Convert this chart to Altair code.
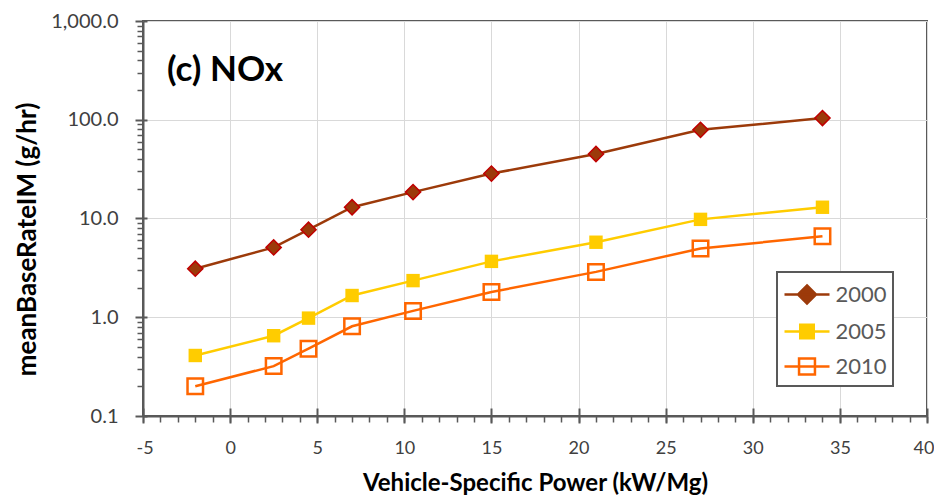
import altair as alt
import pandas as pd

# ---- data ----
vsp = [-2, 2.5, 4.5, 7, 10.5, 15, 21, 27, 34]
nox_2000 = [3.1, 5.1, 7.7, 13.0, 18.5, 28.5, 45.0, 79.0, 104.0]
nox_2005 = [0.41, 0.65, 0.98, 1.66, 2.35, 3.68, 5.75, 9.8, 13.0]
nox_2010 = [0.20, 0.32, 0.48, 0.81, 1.16, 1.80, 2.88, 4.97, 6.6]
years = ["2000", "2005", "2010"]
x_ticks = [-5, 0, 5, 10, 15, 20, 25, 30, 35, 40]
y_ticks = [0.1, 1, 10, 100, 1000]

# ---- styling ----
line_colors = ["#9C3A0A", "#FFCC00", "#FF6600"]
legend_fills = ["#9C3A0A", "#FFCC00", "transparent"]
legend_paths = [
    "M-1.5,0L1.5,0M0,-0.6L0.6,0L0,0.6L-0.6,0Z",
    "M-1.5,0L1.5,0M-0.45,-0.45L0.45,-0.45L0.45,0.45L-0.45,0.45Z",
    "M-1.5,0L1.5,0M-0.53,-0.53L0.53,-0.53L0.53,0.53L-0.53,0.53Z",
]
FONT = "Lato"
AX = "#595959"
W, H = 784, 395

minor_y = [m * d for d in [0.1, 1, 10, 100] for m in range(2, 10)]
minor_x = list(range(-5, 41))

rows = []
for yr, vals in zip(years, [nox_2000, nox_2005, nox_2010]):
    for xv, v in zip(vsp, vals):
        rows.append({"year": yr, "vsp": xv, "nox": v})
df = pd.DataFrame(rows)

x_scale = alt.Scale(domain=[-5, 40], nice=False, zero=False)
y_scale = alt.Scale(type="log", domain=[0.1, 1000], nice=False)

main_x = alt.Axis(
    values=x_ticks, grid=True, gridColor="#D9D9D9", gridWidth=1,
    labelExpr="datum.value < 0 ? '-' + abs(datum.value) : '' + datum.value",
    domainColor=AX, domainWidth=2, tickColor=AX, tickWidth=2, tickSize=7,
    labelFont=FONT, labelFontSize=18, labelColor="#404040", labelPadding=16,
    labelFlush=True, labelFlushOffset=7, labelOverlap=False,
    title="Vehicle-Specific Power (kW/Mg)", titleFont=FONT, titleFontSize=24,
    titleFontWeight="bold", titleColor="black", titleX=W / 2, titleY=74,
    titleBaseline="alphabetic", titleAlign="center",
)
main_y = alt.Axis(
    values=y_ticks, format=",.1f", grid=True, gridColor="#D9D9D9", gridWidth=1,
    domainColor=AX, domainWidth=2, tickColor=AX, tickWidth=2, tickSize=8,
    labelFont=FONT, labelFontSize=20, labelColor="#404040", labelPadding=17,
    labelFlush=False, labelOverlap=False,
    title="meanBaseRateIM (g/hr)", titleFont=FONT, titleFontSize=26,
    titleFontWeight="bold", titleColor="black", titleX=-108, titleY=218,
    titleAngle=270, titleBaseline="alphabetic", titleAlign="center",
)
minor_x_axis = alt.Axis(orient="bottom", values=minor_x, labels=False, domain=False,
                        grid=False, tickSize=6, tickWidth=1.5, tickColor=AX, title=None)
minor_y_axis = alt.Axis(orient="left", values=minor_y, labels=False, domain=False,
                        grid=False, tickSize=6, tickWidth=1.5, tickColor=AX, title=None)
up_x_axis = alt.Axis(orient="top", offset=-H, values=x_ticks, labels=False, domain=False,
                     grid=False, tickSize=8, tickWidth=2, tickColor=AX, title=None)
in_y_axis = alt.Axis(orient="right", offset=-W, values=y_ticks, labels=False, domain=False,
                     grid=False, tickSize=4, tickWidth=2, tickColor=AX, title=None)

base = alt.Chart(df)


def series_line(year, color, xaxis=None, yaxis=None):
    return base.transform_filter(alt.datum.year == year).mark_line(
        strokeWidth=2.5, color=color
    ).encode(
        x=alt.X("vsp:Q", scale=x_scale, axis=xaxis),
        y=alt.Y("nox:Q", scale=y_scale, axis=yaxis),
    )


l2000 = series_line("2000", line_colors[0], main_x, main_y)
l2005 = series_line("2005", line_colors[1])
l2010 = series_line("2010", line_colors[2])

p2000 = base.transform_filter(alt.datum.year == "2000").mark_point(
    shape="diamond", size=230, filled=True, fill="#9C3A0A", stroke="#C00000",
    strokeWidth=1.5, opacity=1,
).encode(
    x=alt.X("vsp:Q", scale=x_scale, axis=minor_x_axis),
    y=alt.Y("nox:Q", scale=y_scale, axis=minor_y_axis),
)

p2005 = base.transform_filter(alt.datum.year == "2005").mark_point(
    shape="square", size=180, filled=True, fill="#FFCC00", strokeWidth=0, opacity=1,
).encode(
    x=alt.X("vsp:Q", scale=x_scale, axis=up_x_axis),
    y=alt.Y("nox:Q", scale=y_scale, axis=in_y_axis),
)

p2010 = base.transform_filter(alt.datum.year == "2010").mark_point(
    shape="square", size=240, filled=False, fill="transparent", stroke="#FF6600",
    strokeWidth=2.5, opacity=1,
).encode(
    x=alt.X("vsp:Q", scale=x_scale, axis=None),
    y=alt.Y("nox:Q", scale=y_scale, axis=None),
)

leg = alt.Legend(
    title=None, orient="none", legendX=634, legendY=251, direction="vertical",
    padding=6, symbolSize=900, symbolStrokeWidth=2.5, symbolOffset=7.5,
    symbolOpacity=1, labelOffset=12, labelFont=FONT, labelFontSize=22,
    labelColor="#595959", rowPadding=6, strokeColor=AX, fillColor="white",
)

legend_layer = base.mark_point(filled=True, strokeWidth=2.5).encode(
    x=alt.X("vsp:Q", scale=x_scale, axis=None),
    y=alt.Y("nox:Q", scale=y_scale, axis=None),
    opacity=alt.value(0),
    shape=alt.Shape("year:N", scale=alt.Scale(domain=years, range=legend_paths), legend=leg),
    fill=alt.Fill("year:N", scale=alt.Scale(domain=years, range=legend_fills), legend=leg),
    stroke=alt.Stroke("year:N", scale=alt.Scale(domain=years, range=line_colors), legend=leg),
)

chart = alt.layer(l2000, l2005, l2010, p2000, p2005, p2010, legend_layer).resolve_axis(
    x="independent", y="independent"
).properties(
    width=W, height=H,
    padding={"left": 135, "top": 13, "right": 7, "bottom": 80},
    autosize=alt.AutoSizeParams(type="none"),
    title=alt.Title("(c) NOx", anchor="start", font=FONT, fontSize=35,
                    fontWeight="bold", color="black", dx=24, dy=105, offset=0,
                    baseline="alphabetic", frame="group"),
).configure_view(stroke=AX, strokeWidth=2).configure_legend(strokeWidth=2)

chart.save("out.html", embed_options={"renderer": "svg", "actions": False})
